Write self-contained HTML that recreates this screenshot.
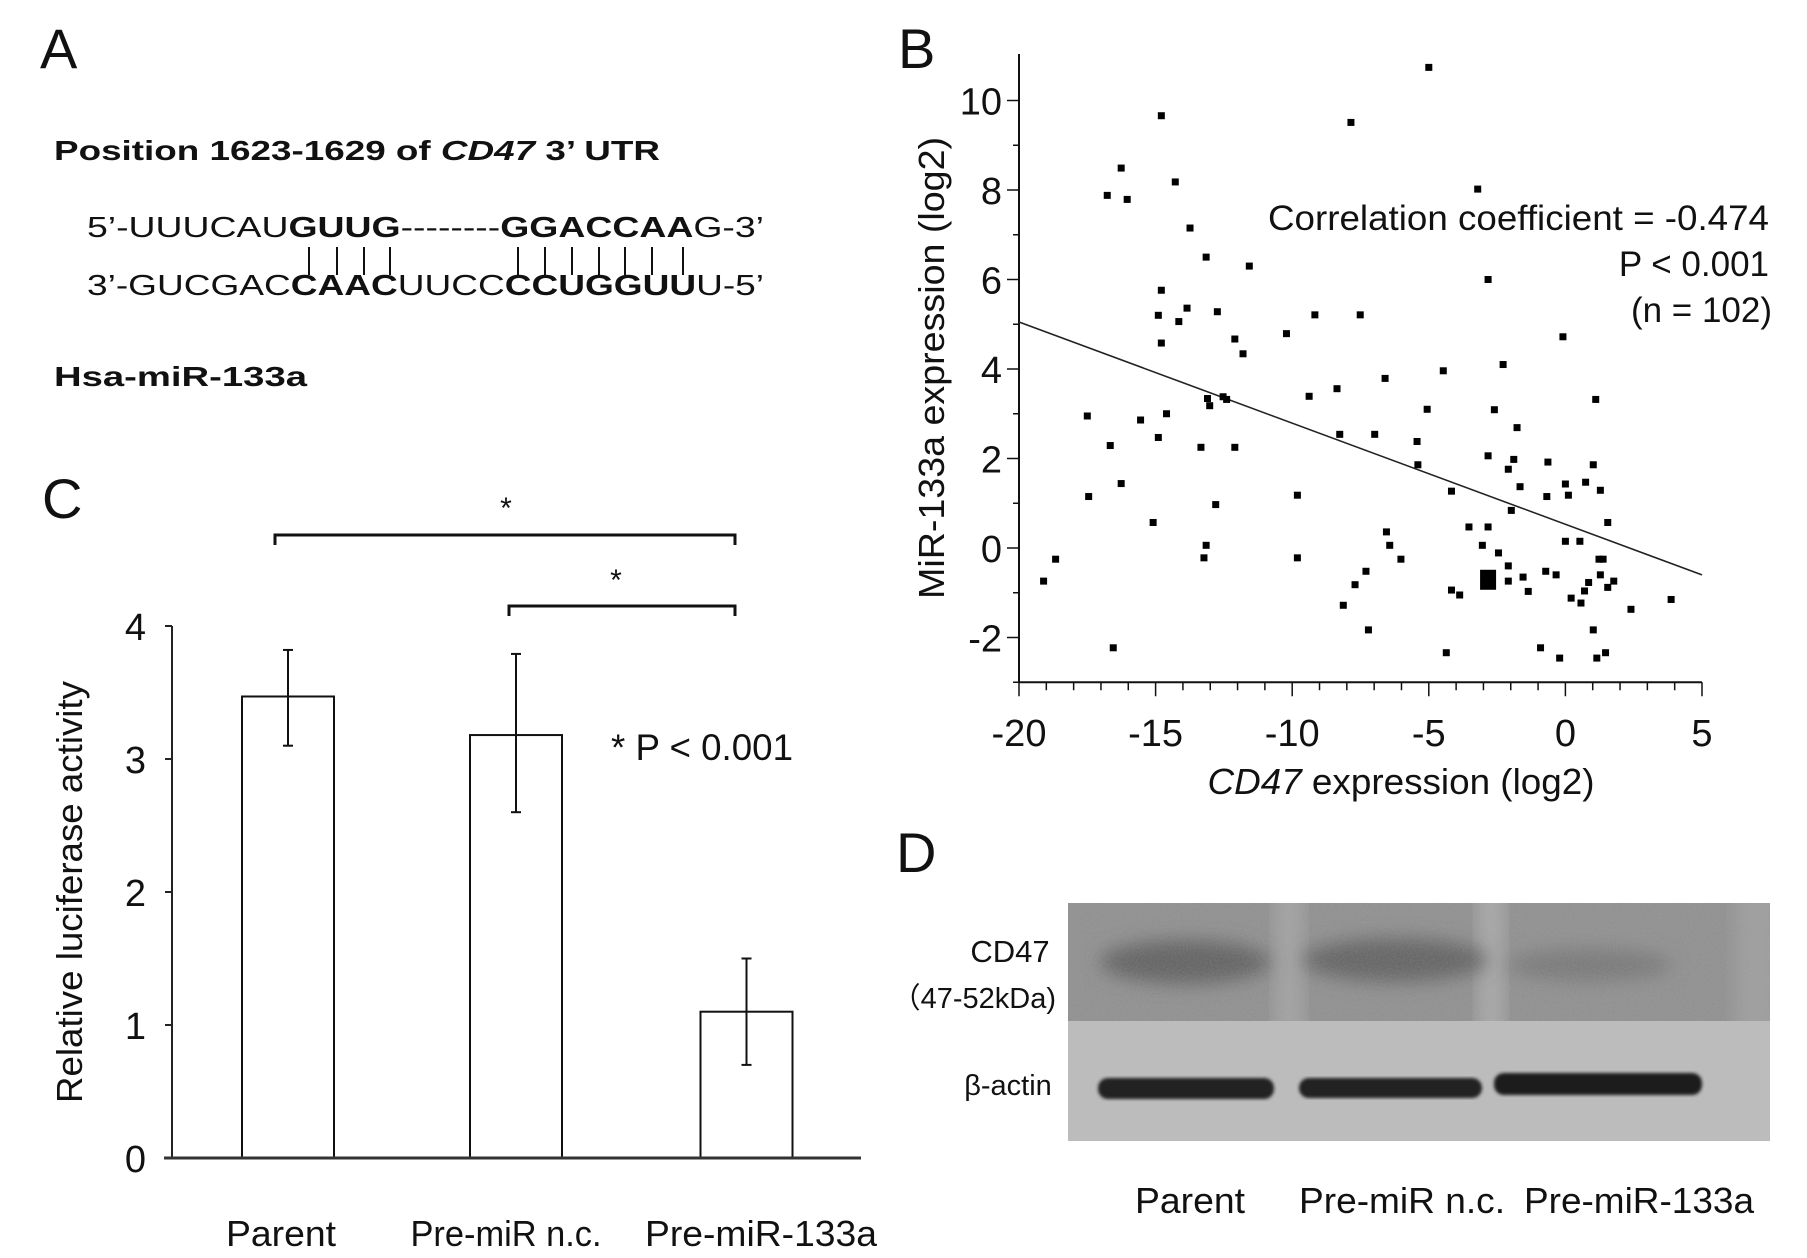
<!DOCTYPE html>
<html><head><meta charset="utf-8">
<style>
html,body{margin:0;padding:0;background:#fff;}
svg{display:block;}
text{font-family:"Liberation Sans",Arial,sans-serif;fill:#111;}
</style></head>
<body>
<svg id="fig" width="1807" height="1258" viewBox="0 0 1807 1258" xmlns="http://www.w3.org/2000/svg">
<defs>
<filter id="blur6" x="-20%" y="-50%" width="140%" height="200%"><feGaussianBlur stdDeviation="9"/></filter>
<filter id="blur2"><feGaussianBlur stdDeviation="1.5"/></filter>
<filter id="noise" x="0" y="0" width="100%" height="100%">
<feTurbulence type="fractalNoise" baseFrequency="0.6" numOctaves="2" seed="3" result="n"/>
<feColorMatrix type="matrix" values="0 0 0 0 0.5  0 0 0 0 0.5  0 0 0 0 0.5  0 0 0 0.25 0"/>
</filter>
<clipPath id="topclip"><rect x="1068" y="903" width="702" height="118"/></clipPath>
</defs>

<!-- Panel A -->
<g>
<text x="40" y="68" font-size="56">A</text>
<text x="54" y="160" font-size="28" font-weight="bold" textLength="606" lengthAdjust="spacingAndGlyphs">Position 1623-1629 of <tspan font-style="italic">CD47</tspan> 3’ UTR</text>
<text x="87" y="237" font-size="29" textLength="677" lengthAdjust="spacingAndGlyphs">5’-UUUCAU<tspan font-weight="bold">GUUG</tspan>--------<tspan font-weight="bold">GGACCAA</tspan>G-3’</text>
<g stroke="#111" stroke-width="2">
<line x1="309" y1="247" x2="309" y2="275"/><line x1="337" y1="247" x2="337" y2="275"/><line x1="364" y1="247" x2="364" y2="275"/><line x1="390" y1="247" x2="390" y2="275"/>
<line x1="518" y1="247" x2="518" y2="275"/><line x1="545" y1="247" x2="545" y2="275"/><line x1="572" y1="247" x2="572" y2="275"/><line x1="599" y1="247" x2="599" y2="275"/><line x1="625" y1="247" x2="625" y2="275"/><line x1="652" y1="247" x2="652" y2="275"/><line x1="683" y1="247" x2="683" y2="275"/>
</g>
<text x="87" y="295" font-size="29" textLength="677" lengthAdjust="spacingAndGlyphs">3’-GUCGAC<tspan font-weight="bold">CAAC</tspan>UUCC<tspan font-weight="bold">CCUGGUU</tspan>U-5’</text>
<text x="54" y="386" font-size="28" font-weight="bold" textLength="253" lengthAdjust="spacingAndGlyphs">Hsa-miR-133a</text>
</g>

<!-- Panel C -->
<g id="panelC">
<text x="42" y="518" font-size="56">C</text>
<text transform="translate(82,892) rotate(-90)" text-anchor="middle" font-size="36" textLength="422" lengthAdjust="spacingAndGlyphs">Relative luciferase activity</text>
<text x="611" y="760" font-size="37" textLength="182" lengthAdjust="spacingAndGlyphs">* P &lt; 0.001</text>
<g stroke="#111" stroke-width="3" fill="none">
<path d="M275,545 V535 H735 V545"/>
<path d="M509,616 V606 H735 V616"/>
</g>
<text x="506" y="518" text-anchor="middle" font-size="30">*</text>
<text x="616" y="590" text-anchor="middle" font-size="30">*</text>
</g>

<!-- Panel B -->
<g id="panelB">
<text x="898" y="68" font-size="56">B</text>
<text transform="translate(944,368) rotate(-90)" text-anchor="middle" font-size="36" textLength="462" lengthAdjust="spacingAndGlyphs">MiR-133a expression (log2)</text>
<text x="1401" y="794" text-anchor="middle" font-size="36" textLength="387" lengthAdjust="spacingAndGlyphs"><tspan font-style="italic">CD47</tspan> expression (log2)</text>
<text x="1769" y="230" text-anchor="end" font-size="35" textLength="501" lengthAdjust="spacingAndGlyphs">Correlation coefficient = -0.474</text>
<text x="1769" y="276" text-anchor="end" font-size="35">P &lt; 0.001</text>
<text x="1772" y="322" text-anchor="end" font-size="35">(n = 102)</text>
</g>

<!-- Panel D -->
<g>
<text x="896" y="872" font-size="56">D</text>
<g>
<rect x="1068" y="903" width="702" height="118" fill="#8e8e8e"/>
<g clip-path="url(#topclip)">
<rect x="1275" y="880" width="28" height="160" fill="#a2a2a2" filter="url(#blur6)"/>
<rect x="1478" y="880" width="26" height="160" fill="#a8a8a8" filter="url(#blur6)"/>
<rect x="1735" y="880" width="45" height="160" fill="#9c9c9c" filter="url(#blur6)"/>
<ellipse cx="1185" cy="962" rx="85" ry="22" fill="#5e5e5e" filter="url(#blur6)"/>
<ellipse cx="1395" cy="960" rx="92" ry="22" fill="#606060" filter="url(#blur6)"/>
<ellipse cx="1590" cy="965" rx="82" ry="16" fill="#767676" filter="url(#blur6)"/>
</g>
<rect x="1068" y="903" width="702" height="118" filter="url(#noise)"/>
<rect x="1068" y="1021" width="702" height="120" fill="#bcbcbc"/>
<rect x="1098" y="1078" width="176" height="21" rx="10" fill="#232323" filter="url(#blur2)"/>
<rect x="1299" y="1078" width="183" height="20" rx="10" fill="#232323" filter="url(#blur2)"/>
<rect x="1494" y="1073" width="208" height="22" rx="10" fill="#1f1f1f" filter="url(#blur2)"/>
</g>
<text x="1010" y="962" text-anchor="middle" font-size="31">CD47</text>
<text x="1056" y="1008" text-anchor="end" font-size="29">（47-52kDa)</text>
<text x="1008" y="1095" text-anchor="middle" font-size="29">β-actin</text>
<text x="1135" y="1213" font-size="36" textLength="110" lengthAdjust="spacingAndGlyphs">Parent</text>
<text x="1299" y="1213" font-size="36" textLength="206" lengthAdjust="spacingAndGlyphs">Pre-miR n.c.</text>
<text x="1524" y="1213" font-size="36" textLength="230" lengthAdjust="spacingAndGlyphs">Pre-miR-133a</text>
</g>
</svg>
<script>
// ---- Bar chart (panel C) data ----
const barCategories = ["Parent", "Pre-miR n.c.", "Pre-miR-133a"];
const barValues = [3.47, 3.18, 1.10];
const barErrLow = [3.10, 2.60, 0.70];
const barErrHigh = [3.82, 3.79, 1.50];
const barTicks = [0, 1, 2, 3, 4];

// ---- Scatter (panel B) data ----
const cd47Expr = [-19.1,-18.66,-17.5,-17.45,-16.77,-16.66,-16.55,-16.26,-16.26,-16.04,-15.55,-15.09,-14.9,-14.9,-14.79,-14.79,-14.79,-14.6,-14.28,-14.15,-13.85,-13.74,-13.34,-13.23,-13.15,-13.15,-13.1,-13.02,-12.8,-12.74,-12.53,-12.4,-12.1,-12.1,-11.8,-11.57,-10.21,-9.81,-9.81,-9.38,-9.17,-8.36,-8.26,-8.13,-7.85,-7.7,-7.51,-7.3,-7.21,-6.98,-6.6,-6.55,-6.43,-6.02,-5.43,-5.4,-5.06,-5.0,-4.47,-4.36,-4.17,-4.17,-3.87,-3.53,-3.21,-3.04,-2.83,-2.83,-2.83,-2.6,-2.45,-2.28,-2.09,-2.09,-2.09,-1.98,-1.89,-1.77,-1.66,-1.55,-1.36,-0.91,-0.72,-0.68,-0.64,-0.34,-0.21,-0.09,0.0,0.0,0.11,0.21,0.53,0.57,0.7,0.74,0.85,1.02,1.02,1.11,1.15,1.23,1.28,1.38,1.28,1.47,1.55,1.55,1.77,2.4,3.87];
const mirExpr = [-0.74,-0.25,2.95,1.15,7.88,2.29,-2.23,8.49,1.44,7.79,2.86,0.57,2.47,5.2,9.66,5.76,4.58,3.0,8.18,5.06,5.36,7.15,2.25,-0.22,6.5,0.06,3.34,3.18,0.97,5.28,3.38,3.32,4.67,2.25,4.34,6.3,4.79,1.18,-0.22,3.39,5.21,3.56,2.54,-1.28,9.51,-0.82,5.21,-0.52,-1.83,2.54,3.79,0.36,0.06,-0.25,2.38,1.86,3.1,10.74,3.96,-2.34,1.27,-0.94,-1.05,0.47,8.02,0.06,6.0,2.06,0.47,3.09,-0.11,4.1,1.76,-0.4,-0.74,0.84,1.98,2.69,1.37,-0.65,-0.97,-2.23,-0.52,1.15,1.92,-0.6,-2.46,4.72,1.43,0.15,1.18,-1.12,0.15,-1.23,-0.96,1.47,-0.77,1.86,-1.83,3.32,-2.46,-0.25,1.29,-0.25,-0.6,-2.34,-0.88,0.57,-0.74,-1.37,-1.15];
const highlightPoint = [-2.83, -0.71];
const fitLine = [[-20, 5.05], [5, -0.6]];
const xTicks = [-20, -15, -10, -5, 0, 5];
const yTicks = [-2, 0, 2, 4, 6, 8, 10];

const NS = "http://www.w3.org/2000/svg";
function mk(tag, attrs, parent) {
  const e = document.createElementNS(NS, tag);
  for (const k in attrs) e.setAttribute(k, attrs[k]);
  parent.appendChild(e);
  return e;
}

// ---- Panel C drawing ----
(function () {
  const g = document.getElementById("panelC");
  const y = v => 1158 - 133 * v;
  const x0 = 172, xEnd = 861, bw = 92;
  const centers = [288, 516, 746.5];
  const labelWidths = [110, 191, 232];
  const labelCenters = [281, 506, 761];
  mk("line", {x1: x0, y1: y(4), x2: x0, y2: y(0), stroke: "#222", "stroke-width": 2}, g);
  barTicks.forEach(t => {
    mk("line", {x1: x0 - 7, y1: y(t), x2: x0, y2: y(t), stroke: "#222", "stroke-width": 2}, g);
    const tx = mk("text", {x: 146, y: y(t) + 14, "text-anchor": "end", "font-size": 38}, g);
    tx.textContent = t;
    
    
  });
  barValues.forEach((v, i) => {
    const r = mk("rect", {x: centers[i] - bw / 2, y: y(v), width: bw, height: y(0) - y(v), fill: "#fff", stroke: "#111", "stroke-width": 2}, g);
    
    
    const eg = mk("g", {stroke: "#111", "stroke-width": 2}, g);
    
    
    mk("line", {x1: centers[i], y1: y(barErrLow[i]), x2: centers[i], y2: y(barErrHigh[i])}, eg);
    mk("line", {x1: centers[i] - 5, y1: y(barErrLow[i]), x2: centers[i] + 5, y2: y(barErrLow[i])}, eg);
    mk("line", {x1: centers[i] - 5, y1: y(barErrHigh[i]), x2: centers[i] + 5, y2: y(barErrHigh[i])}, eg);
    const lb = mk("text", {x: labelCenters[i] - labelWidths[i] / 2, y: 1246, "font-size": 36, textLength: labelWidths[i], lengthAdjust: "spacingAndGlyphs"}, g);
    lb.textContent = barCategories[i];
    
    
  });
  const ax = mk("line", {x1: x0 - 8, y1: y(0), x2: xEnd, y2: y(0), stroke: "#333", "stroke-width": 3}, g);
  
  
})();

// ---- Panel B drawing ----
(function () {
  const g = document.getElementById("panelB");
  const sx = v => 1019 + (v + 20) * 27.32;
  const sy = v => 548 - v * 44.75;
  const ya = mk("line", {x1: sx(-20), y1: 54, x2: sx(-20), y2: sy(-3), stroke: "#111", "stroke-width": 2}, g);
  
  
  const xa = mk("line", {x1: sx(-20), y1: sy(-3), x2: sx(5), y2: sy(-3), stroke: "#111", "stroke-width": 2}, g);
  
  
  for (let v = -20; v <= 5; v++) {
    mk("line", {x1: sx(v), y1: sy(-3), x2: sx(v), y2: sy(-3) + (v % 5 === 0 ? 14 : 8), stroke: "#111", "stroke-width": 1.5}, g);
  }
  xTicks.forEach(t => {
    const tx = mk("text", {x: sx(t), y: 746, "text-anchor": "middle", "font-size": 38}, g);
    tx.textContent = t;
    
    
  });
  yTicks.forEach(t => {
    mk("line", {x1: sx(-20) - 12, y1: sy(t), x2: sx(-20), y2: sy(t), stroke: "#111", "stroke-width": 1.5}, g);
    const tx = mk("text", {x: 1002, y: sy(t) + 14, "text-anchor": "end", "font-size": 38}, g);
    tx.textContent = t;
    
    
  });
  for (let v = -3; v <= 10; v++) {
    if (v % 2 !== 0) mk("line", {x1: sx(-20) - 6, y1: sy(v), x2: sx(-20), y2: sy(v), stroke: "#111", "stroke-width": 1.5}, g);
  }
  const fl = mk("line", {x1: sx(fitLine[0][0]), y1: sy(fitLine[0][1]), x2: sx(fitLine[1][0]), y2: sy(fitLine[1][1]), stroke: "#222", "stroke-width": 1.6}, g);
  
  
  cd47Expr.forEach((xv, i) => {
    const p = mk("rect", {x: sx(xv) - 3.5, y: sy(mirExpr[i]) - 3.5, width: 7, height: 7, fill: "#000"}, g);
    
    
  });
  const hp = mk("rect", {x: sx(highlightPoint[0]) - 8, y: sy(highlightPoint[1]) - 10, width: 16, height: 20, fill: "#000"}, g);
  
  
})();
</script>
</body></html>
